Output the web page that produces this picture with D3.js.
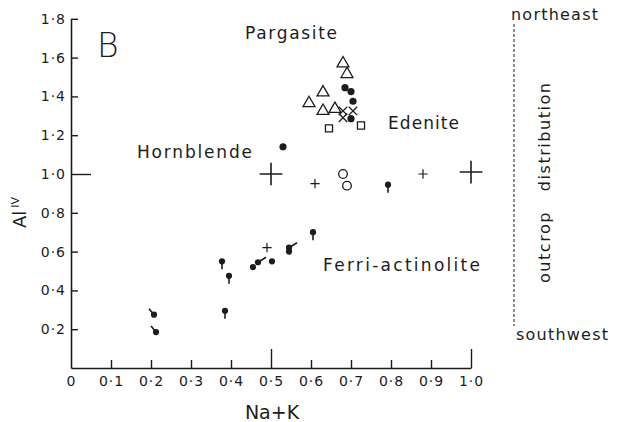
<!DOCTYPE html>
<html>
<head>
<meta charset="utf-8">
<script src="https://cdn.jsdelivr.net/npm/d3@7"></script>
<style>
  body { margin: 0; background: #fff; }
  svg text { font-family: "DejaVu Sans", sans-serif; fill: #1c1c1c; }
</style>
</head>
<body>
<div id="chart"></div>
<script>
// values (Na+K, Al IV)
const triangles = [[0.68, 1.57], [0.69, 1.515], [0.63, 1.42], [0.595, 1.365], [0.63, 1.325], [0.66, 1.335]];
const dots = [[0.685, 1.445], [0.70, 1.425], [0.705, 1.375], [0.70, 1.285], [0.53, 1.14]];
const crosses = [[0.68, 1.325], [0.705, 1.325], [0.68, 1.29]];
const squares = [[0.645, 1.235], [0.725, 1.25]];
const circles = [[0.68, 1.0], [0.69, 0.94]];
const smallPlus = [[0.61, 0.95], [0.88, 1.0], [0.49, 0.62]];
const bigPlus = [[0.5, 1.0], [1.0, 1.01]];
// dots with a little tail, third value is where the tail points
const pins = [
	[0.7925, 0.945, "down"], [0.605, 0.70, "down"], [0.3775, 0.55, "down"],
	[0.395, 0.475, "down"], [0.385, 0.295, "down"], [0.2075, 0.275, "upleft"],
	[0.2125, 0.185, "upleft"], [0.455, 0.52, ""], [0.4675, 0.545, "upright"],
	[0.5025, 0.55, ""], [0.545, 0.62, "upright"], [0.545, 0.60, ""]
];
const xTicks = [0, 0.1, 0.2, 0.3, 0.4, 0.5, 0.6, 0.7, 0.8, 0.9, 1.0];
const yTicks = [0.2, 0.4, 0.6, 0.8, 1.0, 1.2, 1.4, 1.6, 1.8];
const fieldLabels = [
	{ text: "Pargasite", x: 0.435, y: 1.695, w: 92 },
	{ text: "Edenite", x: 0.7925, y: 1.232, w: 71 },
	{ text: "Hornblende", x: 0.165, y: 1.085, w: 115 },
	{ text: "Ferri-actinolite", x: 0.63, y: 0.5, w: 157 }
];

const width = 621, height = 422;
const ink = "#1c1c1c";

const svg = d3.select("#chart")
	.append("svg")
	.attr("width", width)
	.attr("height", height)
	.attr("viewBox", `0 0 ${width} ${height}`);

svg.append("rect").attr("width", width).attr("height", height).attr("fill", "#fff");

const x = d3.scaleLinear().domain([0, 1]).range([71, 471]);
const y = d3.scaleLinear().domain([0, 1.8]).range([368, 18.8]);

const fmt = (d) => (d === 0 ? "0" : d3.format(".1f")(d).replace(".", "·"));

// x axis, ticks pointing into the plot
const gx = svg.append("g")
	.attr("transform", `translate(0,${y(0)})`)
	.call(d3.axisBottom(x).tickValues(xTicks).tickFormat(fmt).tickSize(-8).tickSizeOuter(0).tickPadding(8));
gx.selectAll(".tick line").filter((d) => d === 0.5 || d === 1.0).attr("y2", -19);
gx.selectAll(".tick line").filter((d) => d === 0).remove();

const gy = svg.append("g")
	.attr("transform", `translate(${x(0)},0)`)
	.call(d3.axisLeft(y).tickValues(yTicks).tickFormat(fmt).tickSize(-7).tickSizeOuter(0).tickPadding(5));
gy.selectAll(".tick line").filter((d) => d === 1.0).attr("x2", 20);

svg.selectAll(".domain").attr("stroke", ink).attr("stroke-width", 1.6);
svg.selectAll(".tick line").attr("stroke", ink).attr("stroke-width", 1.4);
svg.selectAll(".tick text")
	.attr("fill", ink)
	.style("font-size", "14px")
	.style("letter-spacing", "1px");

// axis titles
svg.append("text")
	.attr("x", 272)
	.attr("y", 419)
	.attr("text-anchor", "middle")
	.style("font-size", "19px")
	.text("Na+K");

const yTitle = svg.append("text")
	.attr("transform", "translate(26,228) rotate(-90)")
	.style("font-size", "18px");
yTitle.append("tspan").text("Al");
yTitle.append("tspan").attr("dy", -7).attr("dx", 3).style("font-size", "11px").text("IV");

svg.append("text")
	.attr("x", 97)
	.attr("y", 57)
	.style("font-size", "33px")
	.style("font-weight", 200)
	.text("B");

svg.selectAll("text.field")
	.data(fieldLabels)
	.enter()
	.append("text")
	.attr("class", "field")
	.attr("x", (d) => x(d.x))
	.attr("y", (d) => y(d.y))
	.attr("textLength", (d) => d.w)
	.attr("lengthAdjust", "spacing")
	.style("font-size", "17px")
	.text((d) => d.text);

// markers
const sym = (type, size) => d3.symbol().type(type).size(size)();
const pos = (d) => `translate(${x(d[0])},${y(d[1])})`;

svg.selectAll("path.tri").data(triangles).enter().append("path")
	.attr("transform", pos).attr("d", sym(d3.symbolTriangle, 62))
	.attr("fill", "none").attr("stroke", ink).attr("stroke-width", 1.3);

svg.selectAll("path.sq").data(squares).enter().append("path")
	.attr("transform", pos).attr("d", sym(d3.symbolSquare, 50))
	.attr("fill", "none").attr("stroke", ink).attr("stroke-width", 1.3);

svg.selectAll("path.xx").data(crosses).enter().append("path")
	.attr("transform", pos).attr("d", sym(d3.symbolX, 48))
	.attr("fill", "none").attr("stroke", ink).attr("stroke-width", 1.3);

svg.selectAll("circle.open").data(circles).enter().append("circle")
	.attr("cx", (d) => x(d[0])).attr("cy", (d) => y(d[1])).attr("r", 4.3)
	.attr("fill", "none").attr("stroke", ink).attr("stroke-width", 1.3);

svg.selectAll("path.sp").data(smallPlus).enter().append("path")
	.attr("transform", pos).attr("d", sym(d3.symbolPlus, 30))
	.attr("fill", "none").attr("stroke", ink).attr("stroke-width", 1.2);

svg.selectAll("path.bp").data(bigPlus).enter().append("path")
	.attr("transform", pos).attr("d", sym(d3.symbolPlus, 170))
	.attr("fill", "none").attr("stroke", ink).attr("stroke-width", 1.6);

svg.selectAll("circle.dot").data(dots).enter().append("circle")
	.attr("cx", (d) => x(d[0])).attr("cy", (d) => y(d[1])).attr("r", 3.6)
	.attr("fill", ink);

const tailEnd = { down: [0, 8], upleft: [-5, -6], upright: [8, -5] };
const pinG = svg.selectAll("g.pin").data(pins).enter().append("g")
	.attr("transform", pos);
pinG.filter((d) => d[2])
	.append("line")
	.attr("x2", (d) => tailEnd[d[2]][0])
	.attr("y2", (d) => tailEnd[d[2]][1])
	.attr("stroke", ink).attr("stroke-width", 1.6);
pinG.append("circle").attr("r", 3.1).attr("fill", ink);

// outcrop distribution bar on the right
svg.append("line")
	.attr("x1", 514).attr("x2", 514)
	.attr("y1", 24).attr("y2", 326)
	.attr("stroke", "#444").attr("stroke-width", 1.2)
	.attr("stroke-dasharray", "3,2");

svg.append("text").attr("x", 511).attr("y", 20)
	.attr("textLength", 87).attr("lengthAdjust", "spacing")
	.style("font-size", "16px").text("northeast");
svg.append("text").attr("x", 516).attr("y", 340)
	.attr("textLength", 92).attr("lengthAdjust", "spacing")
	.style("font-size", "16px").text("southwest");
svg.append("text")
	.attr("transform", "translate(550,183) rotate(-90)")
	.attr("text-anchor", "middle")
	.attr("textLength", 200).attr("lengthAdjust", "spacing")
	.style("font-size", "16px")
	.style("white-space", "pre")
	.text("outcrop   distribution");
</script>
</body>
</html>
